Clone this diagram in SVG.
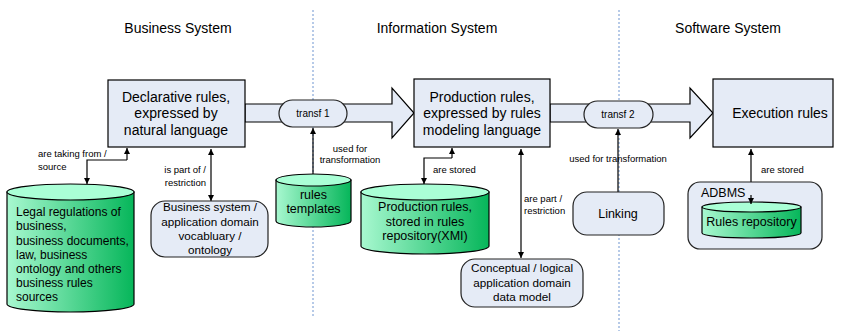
<svg xmlns="http://www.w3.org/2000/svg" width="842" height="331" viewBox="0 0 842 331">
  <defs>
    <linearGradient id="cylBody" x1="0" y1="0" x2="1" y2="0">
      <stop offset="0" stop-color="#a8f8d0"/>
      <stop offset="1" stop-color="#06b65a"/>
    </linearGradient>
    <marker id="arr" viewBox="0 0 10 10" refX="10" refY="5" markerWidth="6" markerHeight="7" orient="auto-start-reverse" markerUnits="userSpaceOnUse">
      <path d="M0,0 L10,5 L0,10 z" fill="#000"/>
    </marker>
  </defs>
  <style>
    text { font-family: "Liberation Sans", Arial, sans-serif; fill: #000; }
    .hdr { font-size: 14px; text-anchor: middle; }
    .big { font-size: 14px; text-anchor: middle; }
    .mid { font-size: 12.5px; text-anchor: middle; }
    .mid2 { font-size: 11.7px; text-anchor: middle; }
    .lft { font-size: 12px; }
    .sm { font-size: 9.5px; }
    .smc { font-size: 9.5px; text-anchor: middle; }
    .pill { font-size: 10px; text-anchor: middle; }
    .start { text-anchor: start; }
    .box { fill: #e5ebf6; stroke: #000; stroke-width: 1.2; }
    .rbox { fill: #e5ebf6; stroke: #222; stroke-width: 1.2; }
    .cyl { fill: url(#cylBody); stroke: #000; stroke-width: 1.2; }
    .cyltop { fill: #aaffd6; stroke: #000; stroke-width: 1.2; }
    .div { stroke: #6f95d0; stroke-width: 1; stroke-dasharray: 2 2; fill: none; }
    .con { stroke: #000; stroke-width: 1.2; fill: none; }
  </style>

  <rect width="842" height="331" fill="#fff"/>

  <!-- column dividers -->
  <g id="dividers">
    <line class="div" x1="313" y1="10" x2="313" y2="318"/>
    <line class="div" x1="619" y1="10" x2="619" y2="331"/>
  </g>

  <!-- column headings -->
  <g id="headings">
    <text class="hdr" x="178" y="33">Business System</text>
    <text class="hdr" x="437" y="33">Information System</text>
    <text class="hdr" x="728" y="33">Software System</text>
  </g>

  <!-- wide transformation arrows -->
  <g id="flow-arrows">
    <polygon class="box" points="245,104 392,104 392,88 414,113 392,138 392,122 245,122"/>
    <polygon class="box" points="550,104 690,104 690,88 713,113 690,138 690,122 550,122"/>
  </g>

  <!-- connectors -->
  <g id="connectors">
    <path class="con" d="M127,160 V148" marker-end="url(#arr)"/>
    <path class="con" d="M127,160 H87 V184" marker-end="url(#arr)"/>
    <path class="con" d="M211,149 V201" marker-start="url(#arr)" marker-end="url(#arr)"/>
    <path class="con" d="M313,174 V128" marker-end="url(#arr)"/>
    <path class="con" d="M452,158 V148" marker-end="url(#arr)"/>
    <path class="con" d="M452,158 H424 V184" marker-end="url(#arr)"/>
    <path class="con" d="M521,149 V258" marker-start="url(#arr)" marker-end="url(#arr)"/>
    <path class="con" d="M618,192 V129" marker-end="url(#arr)"/>
    <path class="con" d="M751,149 V204" marker-start="url(#arr)" marker-end="url(#arr)"/>
  </g>

  <!-- connector labels -->
  <g id="connector-labels">
    <text class="sm" x="38" y="157">are taking from /</text>
    <text class="sm" x="38" y="170">source</text>
    <text class="sm" x="206" y="173" text-anchor="end">is part of /</text>
    <text class="sm" x="206" y="186" text-anchor="end">restriction</text>
    <text class="smc" x="350" y="152">used for</text>
    <text class="smc" x="350" y="163">transformation</text>
    <text class="sm" x="433" y="173">are stored</text>
    <text class="sm" x="524" y="202">are part /</text>
    <text class="sm" x="524" y="214">restriction</text>
    <text class="smc" x="618" y="162">used for transformation</text>
    <text class="sm" x="761" y="173">are stored</text>
  </g>

  <g id="declarative-rules">
    <rect class="box" x="108" y="80" width="137" height="67"/>
    <text class="big" x="176" y="102">Declarative rules,</text>
    <text class="big" x="176" y="118">expressed by</text>
    <text class="big" x="176" y="135">natural language</text>
  </g>

  <g id="transf-1">
    <rect class="rbox" x="279" y="100" width="68" height="27" rx="13.5"/>
    <text class="pill" x="313" y="117">transf 1</text>
  </g>

  <g id="production-rules">
    <rect class="box" x="414" y="79" width="136" height="68"/>
    <text class="big" x="482" y="102">Production rules,</text>
    <text class="big" x="482" y="118">expressed by rules</text>
    <text class="big" x="482" y="135">modeling language</text>
  </g>

  <g id="transf-2">
    <rect class="rbox" x="584" y="101" width="69" height="27" rx="13.5"/>
    <text class="pill" x="618" y="118">transf 2</text>
  </g>

  <g id="execution-rules">
    <rect class="box" x="713" y="79" width="120" height="68"/>
    <text class="big" x="780" y="118">Execution rules</text>
  </g>

  <g id="legal-sources">
    <path class="cyl" d="M7,192 V304 A63.5,8 0 0 0 134,304 V192 Z"/>
    <ellipse class="cyltop" cx="70.5" cy="192" rx="63.5" ry="8"/>
    <text class="lft" x="16" y="216">Legal regulations of</text>
    <text class="lft" x="16" y="230">business,</text>
    <text class="lft" x="16" y="245">business documents,</text>
    <text class="lft" x="16" y="259">law, business</text>
    <text class="lft" x="16" y="273">ontology and others</text>
    <text class="lft" x="16" y="287">business rules</text>
    <text class="lft" x="16" y="301">sources</text>
  </g>

  <g id="business-vocabulary">
    <rect class="rbox" x="151" y="201" width="117" height="56" rx="14"/>
    <text class="mid2" x="210" y="211">Business system /</text>
    <text class="mid2" x="210" y="226">application domain</text>
    <text class="mid2" x="210" y="240">vocabluary /</text>
    <text class="mid2" x="210" y="254">ontology</text>
  </g>

  <g id="rules-templates">
    <path class="cyl" d="M276,180 V221 A37.5,6 0 0 0 351,221 V180 Z"/>
    <ellipse class="cyltop" cx="313.5" cy="180" rx="37.5" ry="6"/>
    <text class="mid" x="313.5" y="199">rules</text>
    <text class="mid" x="313.5" y="213">templates</text>
  </g>

  <g id="production-repository">
    <path class="cyl" d="M361,192 V246 A64,8 0 0 0 489,246 V192 Z"/>
    <ellipse class="cyltop" cx="425" cy="192" rx="64" ry="8"/>
    <text class="mid" x="425" y="211">Production rules,</text>
    <text class="mid" x="425" y="226">stored in rules</text>
    <text class="mid" x="425" y="240">repository(XMI)</text>
  </g>

  <g id="data-model">
    <rect class="rbox" x="461" y="259" width="122" height="48" rx="14"/>
    <text class="mid2" x="522" y="272">Conceptual / logical</text>
    <text class="mid2" x="522" y="287">application domain</text>
    <text class="mid2" x="522" y="301">data model</text>
  </g>

  <g id="linking">
    <rect class="rbox" x="573" y="192" width="91" height="43" rx="14"/>
    <text class="mid" x="618" y="218">Linking</text>
  </g>

  <g id="adbms">
    <rect class="rbox" x="688" y="182" width="134" height="67" rx="12"/>
    <text class="mid start" x="701" y="197">ADBMS</text>
  </g>

  <g id="rules-repository">
    <path class="cyl" d="M702,207 V233 A49.5,5 0 0 0 801,233 V207 Z"/>
    <ellipse class="cyltop" cx="751.5" cy="207" rx="49.5" ry="5"/>
    <text class="mid" x="751.5" y="226">Rules repository</text>
  </g>
  <!-- arrowhead into the repository drawn over its lid -->
  <path class="con" d="M751,195 V204" marker-end="url(#arr)"/>
</svg>
